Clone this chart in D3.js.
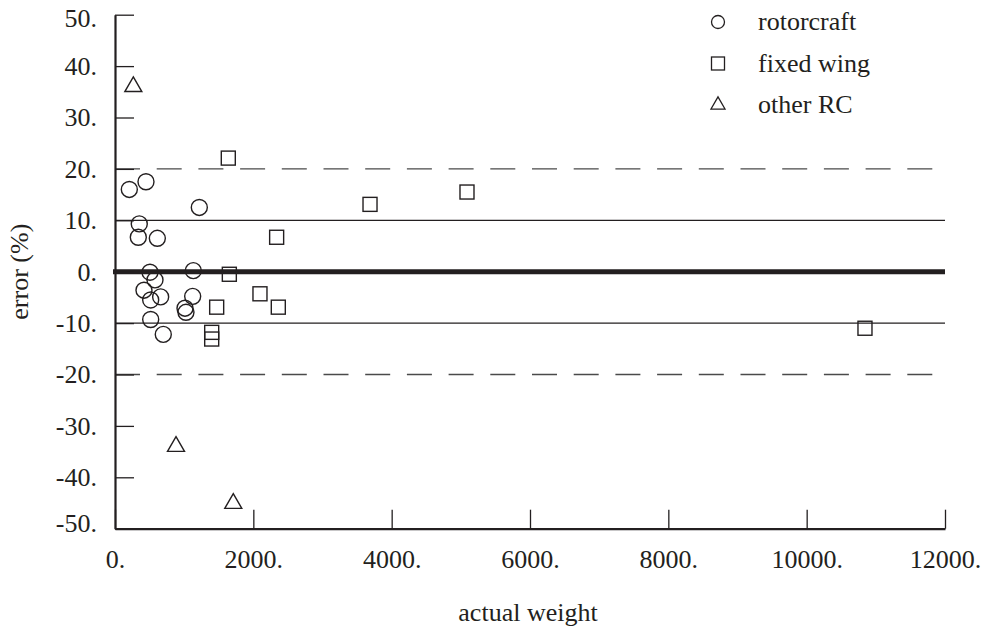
<!DOCTYPE html>
<html>
<head>
<meta charset="utf-8">
<script src="https://cdn.jsdelivr.net/npm/d3@7"></script>
<style>
	body { margin: 0; background: #fff; }
	svg { display: block; }
	text { font-family: 'Liberation Serif', 'Times New Roman', serif; fill: #231f20; }
</style>
</head>
<body>
<svg id="chart"></svg>
<script>
// weight vs. estimation error (%), three aircraft groups
const rotorWeight = [207, 448, 1219, 351, 337, 612, 506, 1132, 578, 419, 516, 660, 1123, 1012, 1026, 516, 698];
const rotorError = [16.0, 17.5, 12.5, 9.3, 6.7, 6.5, -0.1, 0.2, -1.6, -3.6, -5.5, -4.9, -4.8, -7.1, -7.9, -9.3, -12.2];

const fixedWeight = [1638, 2337, 1653, 2096, 1470, 2361, 1398, 1398, 3687, 5089, 10843];
const fixedError = [22.1, 6.7, -0.5, -4.3, -6.9, -6.9, -11.8, -13.1, 13.1, 15.5, -11.0];

const otherWeight = [265, 882, 1710];
const otherError = [36.0, -34.0, -45.1];

const xTicks = [0, 2000, 4000, 6000, 8000, 10000, 12000];
const yTicks = [50, 40, 30, 20, 10, 0, -10, -20, -30, -40, -50];
const legendLabels = ['rotorcraft', 'fixed wing', 'other RC'];

const width = 989, height = 632;
const margin = { top: 14.7, right: 44, bottom: 103.3, left: 115 };
const innerW = width - margin.left - margin.right;
const innerH = height - margin.top - margin.bottom;
const ink = '#231f20';

const svg = d3.select('#chart').attr('width', width).attr('height', height);
const g = svg.append('g').attr('transform', `translate(${margin.left},${margin.top})`);

const x = d3.scaleLinear().domain([0, 12000]).range([0, innerW]);
const y = d3.scaleLinear().domain([-50, 50]).range([innerH, 0]);

// reference lines: +/-20 dashed, +/-10 thin, 0 heavy
[20, -20].forEach(v => {
	g.append('line')
		.attr('x1', 0).attr('x2', innerW)
		.attr('y1', y(v)).attr('y2', y(v))
		.attr('stroke', '#4a4a4a').attr('stroke-width', 1.4)
		.attr('stroke-dasharray', '25,16.7');
});
[10, -10].forEach(v => {
	g.append('line')
		.attr('x1', 0).attr('x2', innerW)
		.attr('y1', y(v)).attr('y2', y(v))
		.attr('stroke', ink).attr('stroke-width', 1.3);
});
g.append('line')
	.attr('x1', -2).attr('x2', innerW)
	.attr('y1', y(0)).attr('y2', y(0))
	.attr('stroke', ink).attr('stroke-width', 5);

// axes
const yAxis = d3.axisLeft(y)
	.tickValues(yTicks)
	.tickSize(-19)
	.tickSizeOuter(0)
	.tickPadding(18)
	.tickFormat(d => d + '.');

const xAxis = d3.axisBottom(x)
	.tickValues(xTicks)
	.tickSize(-19)
	.tickSizeOuter(0)
	.tickPadding(21)
	.tickFormat(d => d + '.');

const yAxisG = g.append('g').call(yAxis);
const xAxisG = g.append('g').attr('transform', `translate(0,${innerH})`).call(xAxis);

[yAxisG, xAxisG].forEach(a => {
	a.attr('font-family', null).attr('font-size', null);
	a.select('.domain').attr('stroke', ink).attr('stroke-width', 2.2);
	a.selectAll('.tick line').attr('stroke', ink).attr('stroke-width', 1.3);
	a.selectAll('.tick text').style('font-size', '26px').attr('fill', ink);
});
xAxisG.selectAll('.tick text').attr('dy', '0.71em');
// end labels sit a little inside the frame
yAxisG.selectAll('.tick text')
	.attr('y', d => d === 50 ? 3 : d === -50 ? -6 : 0);

// axis titles
svg.append('text')
	.attr('x', margin.left + x(6000) - 2)
	.attr('y', 621)
	.attr('text-anchor', 'middle')
	.style('font-size', '26px')
	.text('actual weight');

svg.append('text')
	.attr('transform', `translate(28,${margin.top + y(0)}) rotate(-90)`)
	.attr('text-anchor', 'middle')
	.style('font-size', '26px')
	.text('error (%)');

// markers
const triPath = s => {
	const h = s * Math.sqrt(3) / 2;
	return `M0,${-h * 2 / 3}L${s / 2},${h / 3}L${-s / 2},${h / 3}Z`;
};

const rotorData = rotorWeight.map((w, i) => ({ w, e: rotorError[i] }));
const fixedData = fixedWeight.map((w, i) => ({ w, e: fixedError[i] }));
const otherData = otherWeight.map((w, i) => ({ w, e: otherError[i] }));

g.selectAll('.rotor')
	.data(rotorData)
	.join('circle')
	.attr('class', 'rotor')
	.attr('cx', d => x(d.w))
	.attr('cy', d => y(d.e))
	.attr('r', 8)
	.attr('fill', 'none')
	.attr('stroke', ink)
	.attr('stroke-width', 1.4);

g.selectAll('.fixed')
	.data(fixedData)
	.join('rect')
	.attr('class', 'fixed')
	.attr('x', d => x(d.w) - 7)
	.attr('y', d => y(d.e) - 7)
	.attr('width', 14)
	.attr('height', 14)
	.attr('fill', 'none')
	.attr('stroke', ink)
	.attr('stroke-width', 1.4);

g.selectAll('.other')
	.data(otherData)
	.join('path')
	.attr('class', 'other')
	.attr('transform', d => `translate(${x(d.w)},${y(d.e)})`)
	.attr('d', triPath(17))
	.attr('fill', 'none')
	.attr('stroke', ink)
	.attr('stroke-width', 1.4);

// legend
const legend = svg.append('g').attr('transform', 'translate(718,22)');
const rows = legend.selectAll('g')
	.data(legendLabels)
	.join('g')
	.attr('transform', (d, i) => `translate(0,${i * 41.5})`);

rows.filter((d, i) => i === 0).append('circle')
	.attr('r', 6.5).attr('fill', 'none').attr('stroke', ink).attr('stroke-width', 1.3);
rows.filter((d, i) => i === 1).append('rect')
	.attr('x', -6.5).attr('y', -6.5).attr('width', 13).attr('height', 13)
	.attr('fill', 'none').attr('stroke', ink).attr('stroke-width', 1.3);
rows.filter((d, i) => i === 2).append('path')
	.attr('d', triPath(14)).attr('fill', 'none').attr('stroke', ink).attr('stroke-width', 1.3);

rows.append('text')
	.attr('x', 40)
	.attr('y', 8)
	.style('font-size', '26px')
	.text(d => d);
</script>
</body>
</html>
